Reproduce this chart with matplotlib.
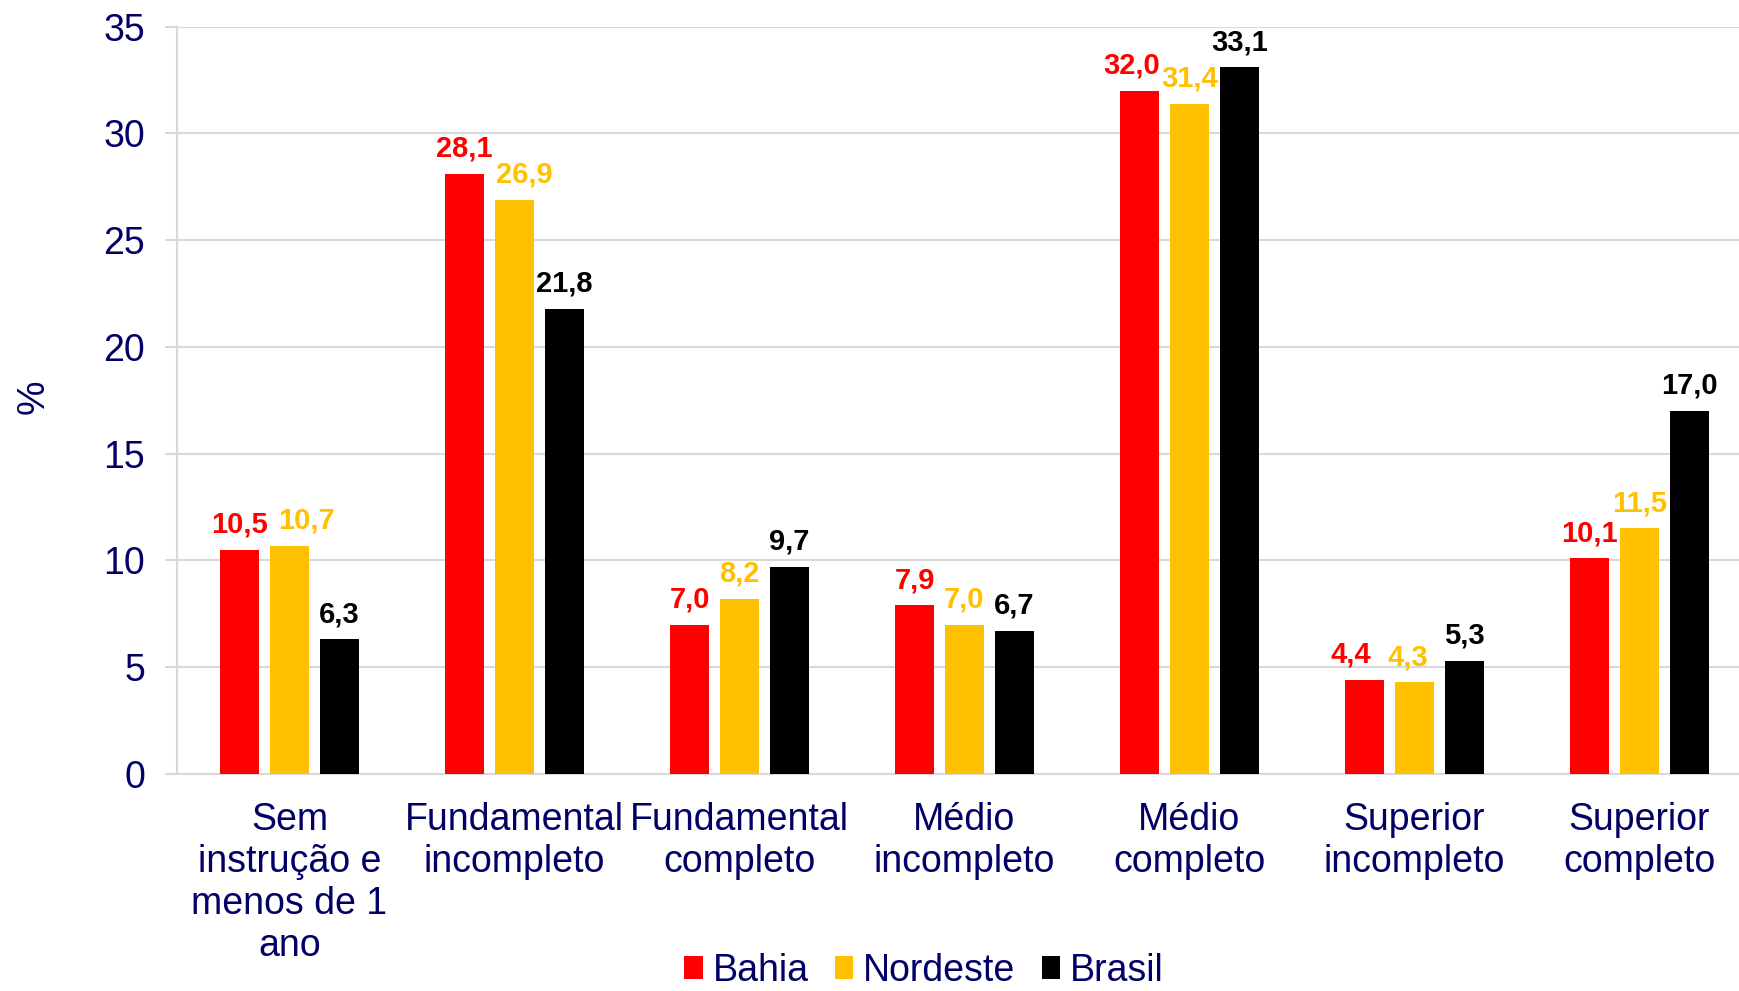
import matplotlib
matplotlib.use("Agg")
import matplotlib.pyplot as plt
import numpy as np
from matplotlib.patches import Patch

plt.rcParams['font.family'] = ['Liberation Sans', 'DejaVu Sans']

categorias = ['Sem\ninstrução e\nmenos de 1\nano', 'Fundamental\nincompleto',
              'Fundamental\ncompleto', 'Médio\nincompleto', 'Médio\ncompleto',
              'Superior\nincompleto', 'Superior\ncompleto']
series = ['Bahia', 'Nordeste', 'Brasil']
bahia = [10.5, 28.1, 7.0, 7.9, 32.0, 4.4, 10.1]
nordeste = [10.7, 26.9, 8.2, 7.0, 31.4, 4.3, 11.5]
brasil = [6.3, 21.8, 9.7, 6.7, 33.1, 5.3, 17.0]
cores = ['#FF0000', '#FFC000', '#000000']
azul = '#000066'
grade = '#D9D9D9'

# deslocamento horizontal (pt) de alguns rótulos, como no Excel
ajuste = {(1, 0): 12, (1, 1): 7, (0, 4): -6, (0, 5): -10, (1, 5): -5}

fig = plt.figure(figsize=(17.4, 9.91), dpi=100)
ax = fig.add_axes([177/1740, 1 - 774/991, 1 - 177/1740, (774 - 26.7)/991])

x = np.arange(len(categorias))
passo = 0.222
largura = 0.173
for i, (vals, cor) in enumerate(zip([bahia, nordeste, brasil], cores)):
    pos = x + (i - 1) * passo
    ax.bar(pos, vals, width=largura, color=cor, zorder=3)
    for j, (p, v) in enumerate(zip(pos, vals)):
        ax.annotate(f'{v:.1f}'.replace('.', ','), (p, v),
                    xytext=(ajuste.get((i, j), 0), 8),
                    textcoords='offset points', ha='center', va='bottom',
                    fontsize=21, fontweight='bold', color=cor)

ax.set_ylim(0, 35)
ax.set_xlim(-0.5, 6.447)
ax.set_yticks(range(0, 36, 5))
ax.set_xticks(x)
ax.set_xticklabels(categorias, fontsize=27, color=azul, linespacing=1.22)
ax.tick_params(axis='x', length=0, pad=20)
ax.tick_params(axis='y', length=9, width=1.5, color=grade, labelsize=27,
               labelcolor=azul, pad=14)
ax.grid(axis='y', color=grade, linewidth=1.5, zorder=0)
for s in ['top', 'right']:
    ax.spines[s].set_visible(False)
for s in ['left', 'bottom']:
    ax.spines[s].set_color(grade)
    ax.spines[s].set_linewidth(1.5)
fig.text(34/1740, 1 - 397/991, '%', rotation=90, fontsize=28, color=azul,
         ha='center', va='center')

handles = [Patch(facecolor=c, label=s) for c, s in zip(cores, series)]
fig.legend(handles=handles, loc='center', bbox_to_anchor=(924/1740, 1 - 971/991),
           ncol=3, frameon=False, fontsize=27, labelcolor=azul,
           handlelength=0.5, handleheight=0.55, handletextpad=0.26,
           columnspacing=0.7, borderpad=0)

fig.savefig('out.png', dpi=100)
